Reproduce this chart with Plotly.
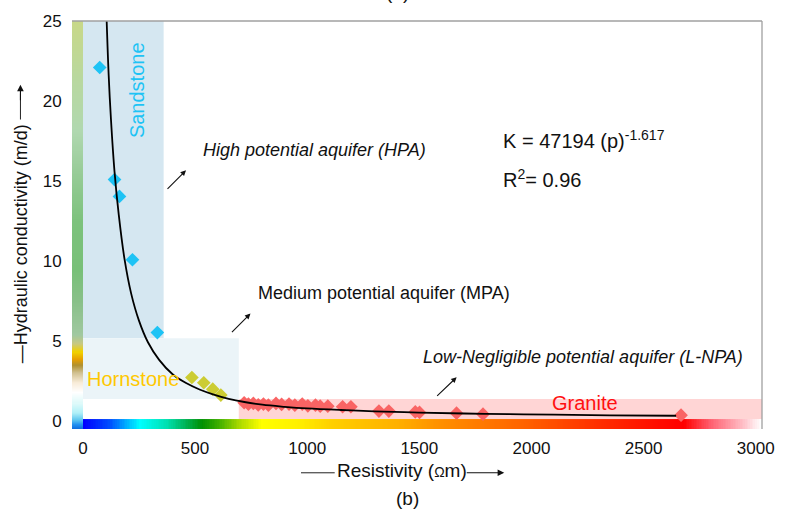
import numpy as np
import plotly.graph_objects as go

# ---------------- data ----------------
sand_res = [75, 141, 163, 221, 332]
sand_k = [22.1, 15.1, 14.05, 10.1, 5.55]

horn_res = [486, 539, 579, 615]
horn_k = [2.75, 2.42, 2.02, 1.65]

gran_res = [719, 738, 760, 782, 805, 827, 861, 886, 919, 945, 978, 1003,
            1037, 1058, 1092, 1158, 1195, 1320, 1364, 1482, 1501, 1666, 1784, 2667]
gran_k = [1.17, 1.09, 1.13, 1.04, 1.09, 1.02, 1.13, 1.07, 1.09, 1.02, 1.09, 0.98,
          1.02, 0.96, 0.96, 0.92, 0.92, 0.65, 0.65, 0.60, 0.57, 0.52, 0.46, 0.40]

fit_res = [106, 115, 125, 141, 160, 186, 215, 250, 290, 340, 400, 460, 520, 580,
           650, 720, 800, 900, 1000, 1150, 1300, 1500, 1700, 1900, 2100, 2350, 2645]
fit_k = [25.0, 21.6, 18.9, 15.6, 12.9, 10.1, 8.0, 6.3, 4.95, 3.85, 2.95, 2.4, 2.0, 1.7,
         1.42, 1.22, 1.05, 0.92, 0.82, 0.72, 0.64, 0.56, 0.50, 0.46, 0.43, 0.39, 0.36]

x_ticks = [0, 500, 1000, 1500, 2000, 2500, 3000]
y_ticks = [0, 5, 10, 15, 20, 25]

X_MIN, X_MAX = -48.6, 3028
Y_MIN, Y_MAX = -0.466, 25

FONT = "Liberation Sans, Arial, sans-serif"

# plot area in pixels
L, R, T, B = 72, 19, 19, 87
W, H = 787, 516
PW, PH = W - L - R, H - T - B


def px(xp):
    return (xp - L) / PW


def py(yp):
    return (H - B - yp) / PH


fig = go.Figure()

# ---------------- gradient bars ----------------
bottom_scale = [
    [0.0, "#0000ff"], [0.039, "#0050ff"], [0.083, "#00ffff"], [0.123, "#00e0b0"],
    [0.152, "#00b050"], [0.175, "#009000"], [0.200, "#40b000"], [0.229, "#a8d800"],
    [0.263, "#ffff00"], [0.317, "#fff000"], [0.365, "#ffd000"], [0.463, "#ffb000"],
    [0.525, "#ff9000"], [0.657, "#ff6000"], [0.755, "#ff3000"], [0.853, "#ff0a00"],
    [0.886, "#ff0000"], [0.926, "#ff6070"], [0.974, "#ffc0c8"], [1.0, "#ffffff"],
]
nb = 400
fig.add_trace(go.Heatmap(
    x=np.linspace(0, X_MAX, nb + 1), y=[Y_MIN, 0.155],
    z=[np.linspace(0, 1, nb)], zmin=0, zmax=1,
    colorscale=bottom_scale, showscale=False, hoverinfo="skip"))

left_scale = [
    [0.0, "#1070e0"], [0.0096, "#2090f0"], [0.022, "#60c8f0"], [0.039, "#b0f0f8"],
    [0.063, "#e0fafa"], [0.088, "#ffffff"], [0.112, "#f8ecd8"], [0.137, "#d0c090"],
    [0.156, "#b09030"], [0.171, "#e8a000"], [0.188, "#f0d000"], [0.207, "#c8c880"],
    [0.229, "#a0c8a0"], [0.315, "#88c088"], [0.388, "#78c078"], [0.509, "#7cc27c"],
    [0.631, "#98cc98"], [0.729, "#b0d8b0"], [0.851, "#b8d8a0"], [1.0, "#c8d888"],
]
nl = 400
fig.add_trace(go.Heatmap(
    x=[X_MIN, 0], y=np.linspace(Y_MIN, Y_MAX, nl + 1),
    z=[[v] for v in np.linspace(0, 1, nl)], zmin=0, zmax=1,
    colorscale=left_scale, showscale=False, hoverinfo="skip"))

# ---------------- points ----------------
fig.add_trace(go.Scatter(x=sand_res, y=sand_k, mode="markers", name="Sandstone",
                         marker=dict(symbol="diamond", size=10.5, color="#1ec3f5", line=dict(width=0))))
fig.add_trace(go.Scatter(x=horn_res, y=horn_k, mode="markers", name="Hornstone",
                         marker=dict(symbol="diamond", size=10.5, color="#cccc33", line=dict(width=0))))
fig.add_trace(go.Scatter(x=gran_res, y=gran_k, mode="markers", name="Granite",
                         marker=dict(symbol="diamond", size=10.5, color="#f96464", line=dict(width=0))))
fig.add_trace(go.Scatter(x=fit_res, y=fit_k, mode="lines", name="fit",
                         line=dict(color="black", width=1.8, shape="spline")))

# ---------------- shaded zones ----------------
shapes = [
    dict(type="rect", xref="x", yref="y", x0=0, x1=360, y0=5.2, y1=Y_MAX,
         fillcolor="#d5e7f1", line=dict(width=0), layer="below"),
    dict(type="rect", xref="x", yref="y", x0=0, x1=695, y0=1.4, y1=5.2,
         fillcolor="#ebf4f8", line=dict(width=0), layer="below"),
    dict(type="rect", xref="x", yref="y", x0=695, x1=X_MAX, y0=0.155, y1=1.4,
         fillcolor="#ffd5d5", line=dict(width=0), layer="below"),
    # top and right frame
    dict(type="line", xref="paper", yref="paper", x0=0, x1=1, y0=1, y1=1,
         line=dict(color="#a0a0a0", width=1.3)),
    dict(type="line", xref="paper", yref="paper", x0=1, x1=1, y0=0, y1=1,
         line=dict(color="#a0a0a0", width=1.3)),
    # x title leading line
    dict(type="line", xref="paper", yref="paper", x0=px(303), x1=px(337),
         y0=py(473), y1=py(473), line=dict(color="#222", width=1)),
    # y title trailing line
    dict(type="line", xref="paper", yref="paper", x0=px(20), x1=px(20),
         y0=py(118), y1=py(92), line=dict(color="#222", width=1)),
]

ann = []


def text(t, x, y, size, color="#111", xanchor="left", italic=False, angle=0):
    ann.append(dict(text=t, x=px(x), y=py(y), xref="paper", yref="paper",
                    xanchor=xanchor, yanchor="middle", showarrow=False, textangle=angle,
                    font=dict(family=FONT, size=size, color=color,
                              style="italic" if italic else "normal")))


def arrow(x0, y0, x1, y1, head=2, size=1.0):
    ann.append(dict(text="", x=px(x1), y=py(y1), xref="paper", yref="paper",
                    ax=x0 - x1, ay=y0 - y1, axref="pixel", ayref="pixel",
                    showarrow=True, arrowhead=head, arrowsize=size, arrowwidth=1.1,
                    arrowcolor="#111"))


text("High potential aquifer (HPA)", 202, 149, 18, italic=True)
text("Medium potential aquifer (MPA)", 258, 292, 18)
text("Low-Negligible potential aquifer (L-NPA)", 424, 357, 18, italic=True)
text("K = 47194 (p)<sup>-1.617</sup>", 505, 138, 20)
text("R<sup>2</sup>= 0.96", 505, 177, 20)
text("Sandstone", 137, 88, 20, color="#1ec3f5", xanchor="center", angle=-90)
text("Hornstone", 85, 379, 20, color="#ffc800")
text("Granite", 589, 403, 20, color="#ff1010", xanchor="center")
text("(b)", 410, 499, 19, xanchor="center")
text("(a)", 400, -10, 19, xanchor="center")
text("Resistivity (<span style='font-size:14px'>Ω</span>m)", 337, 471, 19)
text("—Hydraulic conductivity (m/d)", 20, 243, 18, xanchor="center", angle=-90)

arrow(167, 189, 187, 169)
arrow(232, 333, 252, 313)
arrow(439, 397, 460, 377)
arrow(469, 473, 508, 473, head=2, size=1.2)
arrow(20, 100, 20, 83, head=2, size=1.2)

fig.update_layout(
    width=W, height=H, autosize=False,
    margin=dict(l=L, r=R, t=T, b=B, pad=0),
    plot_bgcolor="white", paper_bgcolor="white",
    showlegend=False,
    shapes=shapes, annotations=ann,
    font=dict(family=FONT, size=17, color="#111"),
    xaxis=dict(range=[X_MIN, X_MAX], tickvals=x_ticks, ticktext=[str(v) for v in x_ticks],
               showgrid=False, zeroline=False, showline=False,
               ticks="outside", ticklen=4, tickcolor="rgba(0,0,0,0)",
               tickfont=dict(family=FONT, size=17, color="#111")),
    yaxis=dict(range=[Y_MIN, Y_MAX], tickvals=y_ticks, ticktext=[str(v) for v in y_ticks],
               showgrid=False, zeroline=False, showline=False,
               ticks="outside", ticklen=6, tickcolor="rgba(0,0,0,0)",
               tickfont=dict(family=FONT, size=17, color="#111")),
)

fig.write_html("out.html", config={"displayModeBar": False},
               post_script="document.body.style.margin='0';document.body.style.overflow='hidden';")
